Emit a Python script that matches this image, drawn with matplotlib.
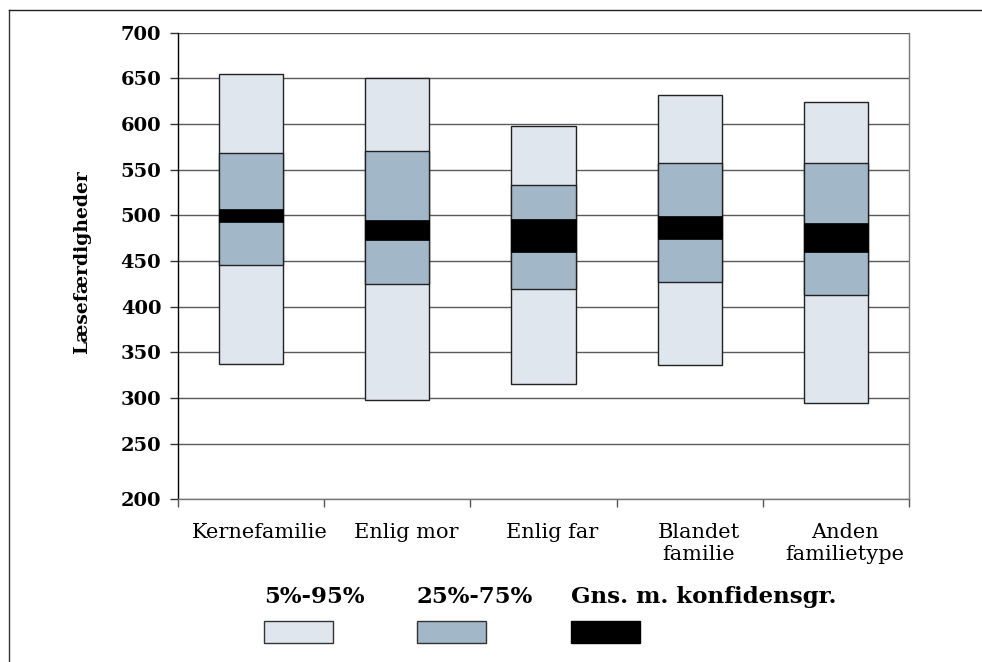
import matplotlib
matplotlib.use("Agg")
import matplotlib.pyplot as plt
from matplotlib.patches import Rectangle
from matplotlib.lines import Line2D
import matplotlib.transforms as mtransforms
import numpy as np

categories = ["Kernefamilie", "Enlig mor", "Enlig far", "Blandet\nfamilie", "Anden\nfamilietype"]
p5 = [337, 298, 315, 336, 295]
p25 = [446, 425, 419, 427, 413]
ci_low = [493, 473, 460, 474, 460]
ci_high = [507, 495, 496, 499, 492]
p75 = [568, 570, 533, 557, 557]
p95 = [655, 650, 598, 632, 624]
ytick_values = [190, 250, 300, 350, 400, 450, 500, 550, 600, 650, 700]
ytick_labels = ["200", "250", "300", "350", "400", "450", "500", "550", "600", "650", "700"]
legend_labels = ["5%-95%", "25%-75%", "Gns. m. konfidensgr."]
ylabel = "Læsefærdigheder"

c_light = "#DFE6ED"
c_mid = "#A2B8C8"
c_dark = "#000000"

plt.rcParams["font.family"] = ["DejaVu Serif"]

fig = plt.figure(figsize=(9.82, 6.62), dpi=100)
ax = fig.add_axes([178/982, 1-498.5/662, (909-178)/982, (498.5-32.7)/662])

x = np.arange(len(categories))
w = 0.44
p5a, p25a, cla, cha, p75a, p95a = map(np.array, (p5, p25, ci_low, ci_high, p75, p95))

ax.bar(x, p95a - p5a, bottom=p5a, width=w, color=c_light, edgecolor="#222222", linewidth=1.0, zorder=3)
ax.bar(x, p75a - p25a, bottom=p25a, width=w, color=c_mid, edgecolor="#222222", linewidth=1.0, zorder=4)
ax.bar(x, cha - cla, bottom=cla, width=w, color=c_dark, edgecolor=c_dark, linewidth=0.5, zorder=5)

ax.set_xlim(-0.5, len(categories) - 0.5)
ax.set_ylim(ytick_values[0], ytick_values[-1])
ax.set_yticks(ytick_values)
ax.set_yticklabels(ytick_labels, fontweight="bold", fontsize=14)
ax.yaxis.grid(True, color="#5a5a5a", linewidth=1.0, zorder=0)
ax.set_axisbelow(True)
ax.tick_params(axis="y", direction="out", length=6, width=1, color="#333333", pad=6)

ax.set_xticks(x)
ax.set_xticklabels(categories, fontsize=15, linespacing=1.15)
ax.set_xticks(np.arange(len(categories) + 1) - 0.5, minor=True)
ax.tick_params(axis="x", which="major", length=0, pad=18)
ax.tick_params(axis="x", which="minor", direction="out", length=6, width=1, color="#555555")
offset = mtransforms.ScaledTranslation(9/100, 0, fig.dpi_scale_trans)
for lab in ax.get_xticklabels():
    lab.set_transform(lab.get_transform() + offset)

ax.spines["top"].set_visible(False)
ax.spines["left"].set_color("#000000")
ax.spines["right"].set_color("#777777")
ax.spines["bottom"].set_color("#777777")
for s in ax.spines.values():
    s.set_linewidth(1.0)

fig.text(82/982, 1-262/662, ylabel, rotation=90, ha="center", va="center",
         fontsize=13.5, fontweight="bold")

# legend
leg_x = [264, 417, 571]
leg_colors = [c_light, c_mid, c_dark]
for lx, lab, col in zip(leg_x, legend_labels, leg_colors):
    fig.text(lx/982, 1-603/662, lab, ha="left", va="baseline", fontsize=16.5, fontweight="bold")
    fig.add_artist(Rectangle((lx/982, 1-643/662), 69/982, 22/662, transform=fig.transFigure,
                             facecolor=col, edgecolor="#333333" if col != c_dark else c_dark, linewidth=1))

# outer frame (left and top)
fig.add_artist(Line2D([8.5/982, 8.5/982], [0, 1-10/662], transform=fig.transFigure, color="#333333", linewidth=1))
fig.add_artist(Line2D([8.5/982, 1], [1-10/662, 1-10/662], transform=fig.transFigure, color="#222222", linewidth=1))

fig.savefig("out.png", dpi=100)
